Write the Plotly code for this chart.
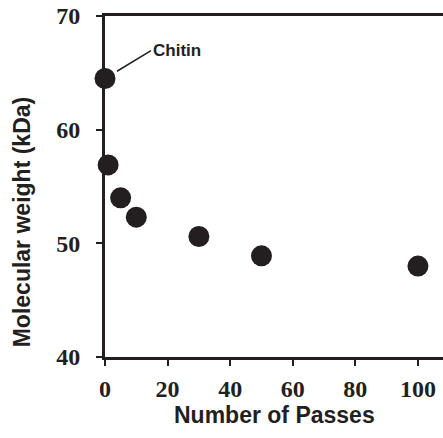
import plotly.graph_objects as go

passes = [0, 1, 5, 10, 30, 50, 100]
mw = [64.5, 56.9, 54.0, 52.3, 50.6, 48.9, 48.0]
x_ticks = [0, 20, 40, 60, 80, 100]
y_ticks = [40, 50, 60, 70]

ink = "#231f20"

fig = go.Figure()
fig.add_trace(go.Scatter(
    x=passes, y=mw, mode="markers",
    marker=dict(size=21, color=ink, line=dict(width=0)),
    cliponaxis=False, showlegend=False, hoverinfo="skip",
))

fig.add_annotation(
    x=0, y=64.5, xref="x", yref="y",
    text="<b>Chitin</b>", showarrow=True, arrowhead=0, arrowwidth=1.5, arrowcolor=ink,
    ax=46, ay=-28, xanchor="left", yanchor="middle",
    font=dict(family="Liberation Sans", size=17, color=ink),
    standoff=14,
)

tickfont = dict(family="Liberation Serif", size=24, color=ink, weight="bold")
titlefont = dict(family="Liberation Sans", size=23, color=ink, weight="bold")

fig.add_annotation(
    text="Molecular weight (kDa)", xref="paper", yref="paper",
    x=-0.2456, y=0.395, xanchor="center", yanchor="middle", textangle=-90,
    showarrow=False, font=titlefont,
)
fig.add_annotation(
    text="Number of Passes", xref="paper", yref="paper",
    x=0.5, y=-0.170, xanchor="center", yanchor="middle",
    showarrow=False, font=titlefont,
)

fig.update_layout(
    width=443, height=438,
    margin=dict(l=105, r=0, t=16, b=81),
    paper_bgcolor="white", plot_bgcolor="white",
    xaxis=dict(
        range=[0, 108], tickvals=x_ticks, ticks="outside", ticklen=6, tickwidth=2,
        tickcolor=ink, showline=True, linewidth=3, linecolor=ink, mirror=True,
        showgrid=False, zeroline=False, tickfont=tickfont, ticklabelstandoff=2,
    ),
    yaxis=dict(
        range=[40, 70], tickvals=y_ticks, ticks="outside", ticklen=6, tickwidth=2,
        tickcolor=ink, showline=True, linewidth=3, linecolor=ink,
        showgrid=False, zeroline=False, tickfont=tickfont, ticklabelstandoff=11,
    ),
)

fig.write_html("out.html", config={"displayModeBar": False},
               post_script="document.body.style.margin='0';")
